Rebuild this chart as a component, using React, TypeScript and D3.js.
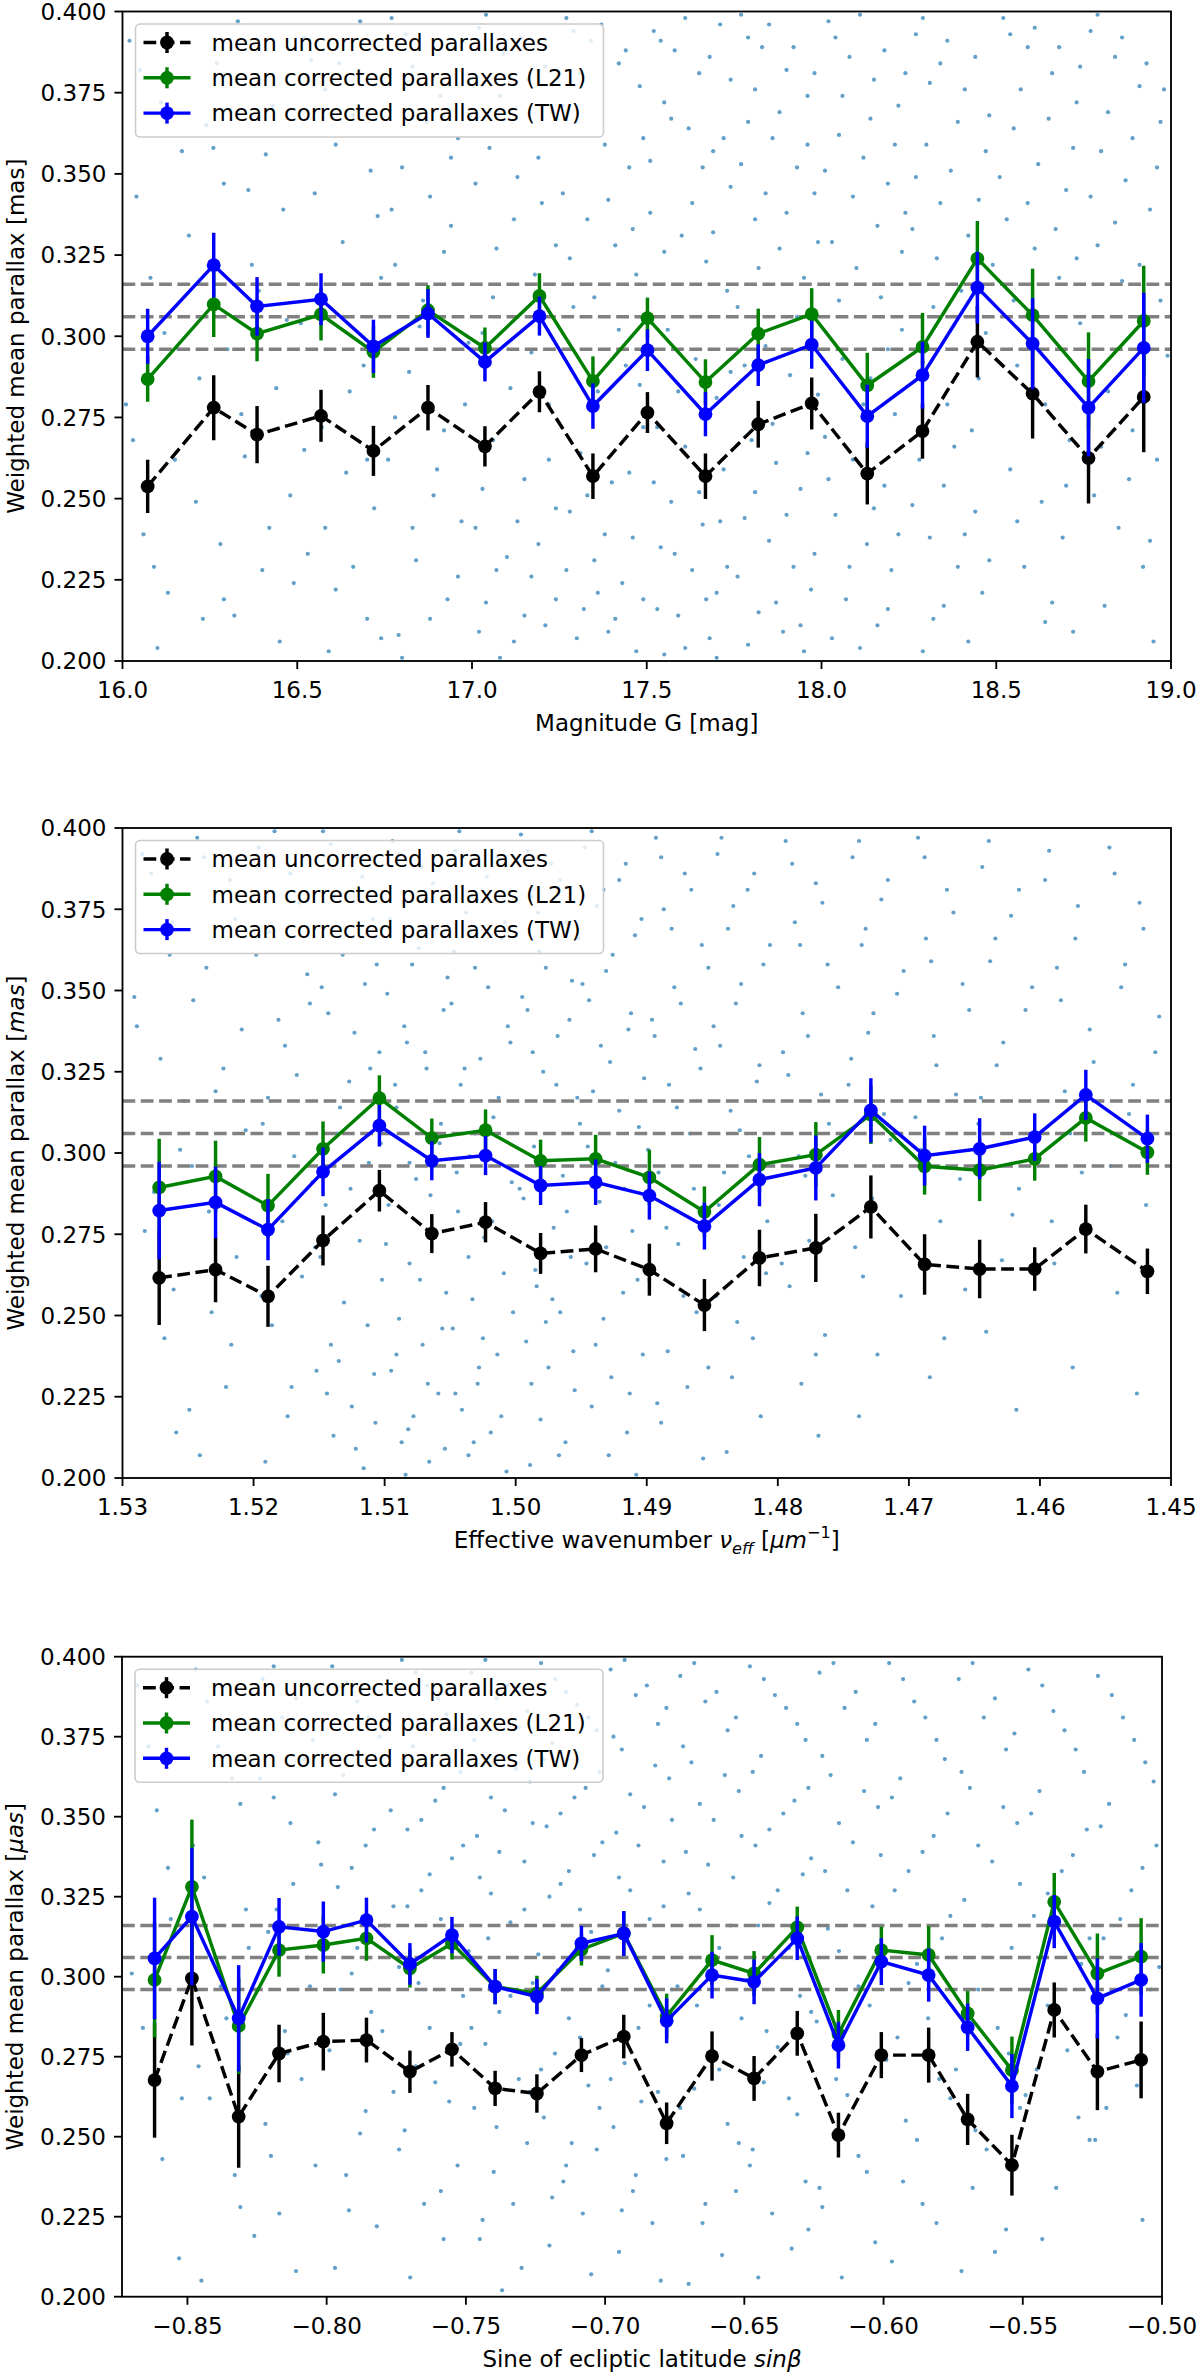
import { useEffect, useRef } from 'react';
import * as d3 from 'd3';

// ---------- shared ----------
const REF_LINES = [0.316, 0.306, 0.296];
const Y_TICKS = [0.2, 0.225, 0.25, 0.275, 0.3, 0.325, 0.35, 0.375, 0.4];
const LEGEND_LABELS = [
  'mean uncorrected parallaxes',
  'mean corrected parallaxes (L21)',
  'mean corrected parallaxes (TW)',
];
const SERIES_COLORS = ['#000000', '#008000', '#0000ff'];

// ---------- panel 1: magnitude G ----------
const G_TICKS = [16, 16.5, 17, 17.5, 18, 18.5, 19];
const G_MAG = [16.072, 16.261, 16.385, 16.568, 16.718, 16.874, 17.037, 17.193, 17.346, 17.502, 17.668, 17.819, 17.972, 18.131, 18.289, 18.446, 18.604, 18.764, 18.922];
const G_UNCORR = [0.2538, 0.278, 0.2697, 0.2755, 0.2647, 0.278, 0.2661, 0.2829, 0.2569, 0.2765, 0.2569, 0.2729, 0.2793, 0.2577, 0.2708, 0.2983, 0.2823, 0.2625, 0.2813];
const G_UNCORR_ERR = [0.0082, 0.01, 0.0088, 0.008, 0.0077, 0.007, 0.0062, 0.0063, 0.007, 0.0063, 0.007, 0.0072, 0.008, 0.0095, 0.0085, 0.011, 0.0138, 0.014, 0.017];
const G_L21 = [0.2868, 0.3098, 0.3008, 0.3067, 0.2952, 0.308, 0.2964, 0.3124, 0.2862, 0.3056, 0.2859, 0.3008, 0.3068, 0.2849, 0.2967, 0.3239, 0.3065, 0.2862, 0.3047];
const G_L21_ERR = [0.007, 0.01, 0.0085, 0.008, 0.008, 0.0077, 0.0063, 0.007, 0.0076, 0.0063, 0.007, 0.0077, 0.008, 0.01, 0.0105, 0.0116, 0.0143, 0.015, 0.017];
const G_TW = [0.3, 0.3219, 0.3092, 0.3114, 0.2969, 0.307, 0.2921, 0.3062, 0.2785, 0.2957, 0.276, 0.2911, 0.2974, 0.2754, 0.288, 0.315, 0.2977, 0.278, 0.2964];
const G_TW_ERR = [0.0085, 0.01, 0.009, 0.008, 0.0082, 0.0075, 0.006, 0.006, 0.007, 0.0064, 0.0068, 0.0064, 0.0074, 0.0097, 0.0103, 0.011, 0.014, 0.015, 0.017];
const G_SCATTER: [number, number][] = [
  [16.02,.391],[16.11,.372],[16.04,.343],[16.19,.331],[16.08,.318],[16.22,.287],[16.01,.279],[16.15,.262],[16.06,.239],[16.13,.221],[16.23,.213],[16.10,.204],
  [16.27,.384],[16.33,.397],[16.41,.356],[16.29,.347],[16.46,.339],[16.37,.322],[16.30,.296],[16.44,.284],[16.35,.263],[16.48,.251],[16.28,.236],[16.40,.228],[16.32,.214],[16.45,.206],
  [16.52,.392],[16.58,.376],[16.66,.368],[16.71,.351],[16.55,.344],[16.63,.329],[16.74,.318],[16.51,.304],[16.69,.291],[16.57,.272],[16.64,.258],[16.72,.247],[16.53,.233],[16.61,.222],[16.70,.213],[16.59,.203],
  [16.77,.398],[16.83,.383],[16.91,.374],[16.96,.361],[16.80,.352],[16.88,.343],[16.94,.334],[16.78,.322],[16.86,.311],[16.99,.298],[16.82,.289],[16.92,.271],[16.76,.262],[16.89,.251],[16.97,.243],[16.84,.231],[16.93,.219],[16.79,.208],
  [17.02,.395],[17.09,.387],[17.16,.379],[17.23,.369],[17.05,.358],[17.13,.349],[17.20,.341],[17.07,.327],[17.18,.319],[17.03,.301],[17.11,.284],[17.22,.279],[17.06,.268],[17.15,.256],[17.24,.247],[17.01,.241],[17.10,.232],[17.17,.226],[17.04,.218],[17.21,.211],[17.12,.206],[17.08,.201],
  [17.27,.398],[17.34,.391],[17.42,.384],[17.48,.377],[17.30,.366],[17.38,.359],[17.45,.352],[17.26,.344],[17.33,.336],[17.41,.328],[17.47,.319],[17.29,.309],[17.44,.291],[17.36,.283],[17.49,.272],[17.31,.264],[17.40,.255],[17.28,.246],[17.46,.238],[17.35,.231],[17.43,.224],[17.32,.216],[17.39,.209],[17.47,.203],
  [17.52,.394],[17.58,.388],[17.65,.381],[17.71,.396],[17.55,.372],[17.62,.364],[17.69,.357],[17.74,.346],[17.51,.338],[17.60,.331],[17.67,.323],[17.73,.314],[17.56,.302],[17.64,.293],[17.70,.281],[17.53,.272],[17.61,.266],[17.72,.259],[17.57,.249],[17.66,.242],[17.54,.235],[17.63,.228],[17.70,.221],[17.59,.214],[17.68,.207],[17.55,.202],
  [17.77,.399],[17.83,.389],[17.90,.382],[17.96,.374],[17.79,.366],[17.86,.361],[17.93,.352],[17.98,.344],[17.81,.336],[17.88,.327],[17.95,.318],[17.76,.309],[17.84,.297],[17.91,.288],[17.99,.282],[17.80,.268],[17.87,.261],[17.94,.253],[17.78,.244],[17.85,.237],[17.92,.229],[17.97,.222],[17.82,.215],[17.89,.209],[17.95,.203],[17.76,.226],
  [18.02,.397],[18.08,.386],[18.15,.379],[18.22,.371],[18.05,.362],[18.12,.355],[18.19,.347],[18.24,.338],[18.03,.329],[18.10,.321],[18.17,.312],[18.23,.302],[18.06,.293],[18.14,.287],[18.21,.276],[18.01,.269],[18.09,.262],[18.18,.254],[18.04,.245],[18.13,.236],[18.20,.228],[18.07,.219],[18.16,.211],[18.11,.204],
  [18.27,.393],[18.34,.384],[18.41,.376],[18.48,.368],[18.30,.359],[18.37,.351],[18.45,.342],[18.26,.333],[18.33,.324],[18.40,.314],[18.47,.301],[18.29,.292],[18.36,.279],[18.43,.271],[18.28,.262],[18.35,.254],[18.44,.246],[18.31,.238],[18.39,.229],[18.46,.221],[18.32,.213],[18.42,.206],
  [18.52,.398],[18.59,.389],[18.66,.381],[18.73,.372],[18.55,.364],[18.62,.353],[18.70,.345],[18.53,.336],[18.61,.327],[18.68,.318],[18.74,.304],[18.56,.291],[18.64,.279],[18.71,.268],[18.54,.259],[18.63,.249],[18.69,.238],[18.58,.229],[18.66,.218],[18.72,.209],
  [18.77,.394],[18.84,.386],[18.91,.377],[18.97,.366],[18.80,.357],[18.87,.348],[18.94,.339],[18.79,.328],[18.86,.317],[18.93,.305],[18.99,.294],[18.82,.283],[18.89,.271],[18.96,.262],[18.78,.251],[18.85,.241],[18.92,.229],[18.81,.217],[18.95,.206],
];
const G_SCATTER_B: [number, number][] = [
  [16.05,.382],[16.17,.357],[16.12,.301],[16.03,.268],[16.21,.249],[16.09,.229],[16.16,.296],[16.24,.365],
  [16.31,.389],[16.43,.371],[16.26,.358],[16.39,.314],[16.47,.305],[16.34,.276],[16.42,.241],[16.29,.219],[16.36,.345],[16.49,.224],
  [16.54,.385],[16.68,.397],[16.61,.359],[16.73,.337],[16.56,.312],[16.65,.283],[16.52,.265],[16.70,.262],[16.58,.241],[16.66,.229],[16.74,.207],[16.62,.384],
  [16.81,.393],[16.95,.389],[16.87,.366],[16.77,.339],[16.92,.326],[16.85,.303],[16.98,.279],[16.78,.275],[16.90,.259],[16.83,.241],[16.96,.226],[16.88,.213],[16.80,.201],[16.94,.355],
  [17.04,.399],[17.14,.392],[17.21,.383],[17.08,.374],[17.19,.355],[17.01,.347],[17.12,.336],[17.24,.328],[17.06,.312],[17.17,.295],[17.22,.262],[17.03,.253],[17.13,.243],[17.19,.236],[17.07,.228],[17.24,.219],[17.15,.214],[17.02,.209],
  [17.29,.394],[17.37,.396],[17.44,.388],[17.31,.381],[17.49,.361],[17.26,.371],[17.39,.342],[17.46,.333],[17.28,.324],[17.35,.312],[17.42,.302],[17.48,.285],[17.33,.251],[17.45,.258],[17.27,.228],[17.38,.239],[17.49,.219],[17.30,.207],[17.41,.213],[17.36,.221],
  [17.54,.391],[17.61,.398],[17.68,.386],[17.74,.379],[17.57,.367],[17.66,.352],[17.72,.361],[17.51,.354],[17.63,.341],[17.69,.332],[17.55,.326],[17.74,.289],[17.59,.283],[17.52,.255],[17.65,.252],[17.71,.243],[17.58,.233],[17.67,.219],[17.53,.216],[17.73,.229],[17.61,.204],[17.70,.201],
  [17.79,.392],[17.85,.396],[17.92,.389],[17.98,.381],[17.81,.376],[17.88,.369],[17.96,.359],[17.77,.353],[17.84,.344],[17.90,.338],[17.99,.329],[17.82,.321],[17.93,.306],[17.78,.291],[17.86,.273],[17.96,.264],[17.81,.252],[17.90,.245],[17.98,.233],[17.87,.218],[17.79,.205],[17.94,.211],
  [18.04,.392],[18.11,.399],[18.18,.388],[18.24,.381],[18.06,.374],[18.14,.367],[18.21,.359],[18.01,.351],[18.09,.343],[18.16,.334],[18.23,.326],[18.05,.311],[18.19,.296],[18.12,.279],[18.02,.256],[18.15,.247],[18.22,.239],[18.08,.229],[18.19,.216],[18.03,.207],
  [18.29,.398],[18.36,.391],[18.44,.386],[18.31,.378],[18.39,.366],[18.47,.357],[18.27,.349],[18.34,.341],[18.42,.331],[18.49,.322],[18.32,.309],[18.45,.287],[18.38,.266],[18.26,.248],[18.41,.239],[18.48,.231],[18.35,.217],[18.29,.203],
  [18.54,.393],[18.61,.395],[18.68,.389],[18.74,.383],[18.57,.376],[18.65,.367],[18.72,.358],[18.51,.349],[18.59,.341],[18.67,.333],[18.73,.324],[18.55,.311],[18.62,.296],[18.70,.254],[18.56,.243],[18.64,.212],
  [18.79,.399],[18.86,.392],[18.93,.384],[18.98,.376],[18.82,.369],[18.89,.361],[18.96,.352],[18.77,.343],[18.84,.335],[18.91,.322],[18.97,.311],[18.80,.266],[18.88,.256],[18.94,.237],
];

// ---------- panel 2: effective wavenumber ----------
const NU_TICKS = [1.53, 1.52, 1.51, 1.5, 1.49, 1.48, 1.47, 1.46, 1.45];
const NU_EFF = [1.5272, 1.5229, 1.5189, 1.5147, 1.5104, 1.5064, 1.5023, 1.4981, 1.4939, 1.4898, 1.4856, 1.4814, 1.4771, 1.4729, 1.4688, 1.4646, 1.4604, 1.4565, 1.4518];
const NU_UNCORR = [0.2616, 0.2641, 0.2559, 0.2731, 0.2884, 0.2752, 0.2787, 0.2691, 0.2705, 0.2641, 0.2532, 0.2677, 0.2708, 0.2834, 0.2657, 0.2643, 0.2643, 0.2766, 0.2636];
const NU_UNCORR_ERR = [0.0145, 0.01, 0.0094, 0.0077, 0.0064, 0.006, 0.0062, 0.0063, 0.0072, 0.008, 0.008, 0.0087, 0.0105, 0.0097, 0.0093, 0.009, 0.0067, 0.0075, 0.007];
const NU_L21 = [0.2894, 0.2928, 0.2838, 0.3013, 0.3169, 0.3046, 0.307, 0.2976, 0.2982, 0.2925, 0.2819, 0.2964, 0.2995, 0.3118, 0.2959, 0.2947, 0.2982, 0.3108, 0.3002];
const NU_L21_ERR = [0.015, 0.011, 0.0098, 0.0084, 0.007, 0.006, 0.0064, 0.0065, 0.0074, 0.0085, 0.0078, 0.0085, 0.01, 0.009, 0.0087, 0.0095, 0.0067, 0.0073, 0.0069];
const NU_TW = [0.2823, 0.2848, 0.2764, 0.2942, 0.3084, 0.2976, 0.2992, 0.29, 0.291, 0.2869, 0.2775, 0.2918, 0.2954, 0.3131, 0.2992, 0.3013, 0.3049, 0.3179, 0.3044];
const NU_TW_ERR = [0.015, 0.011, 0.0094, 0.0075, 0.0064, 0.006, 0.006, 0.006, 0.007, 0.0074, 0.0072, 0.0082, 0.01, 0.0099, 0.0092, 0.0094, 0.0073, 0.0077, 0.0074];
const NU_SCATTER: [number, number][] = [
  [1.5285,.392],[1.5262,.371],[1.5291,.348],[1.5271,.329],[1.5256,.301],[1.5283,.276],[1.5268,.243],[1.5259,.214],
  [1.5243,.397],[1.5218,.384],[1.5236,.357],[1.5209,.338],[1.5229,.319],[1.5247,.296],[1.5213,.268],[1.5232,.251],[1.5221,.228],[1.5241,.207],
  [1.5196,.394],[1.5172,.386],[1.5188,.368],[1.5159,.355],[1.5181,.341],[1.5167,.324],[1.5193,.309],[1.5155,.291],[1.5178,.279],[1.5163,.262],[1.5186,.247],[1.5152,.233],[1.5174,.219],[1.5191,.205],
  [1.5147,.399],[1.5121,.391],[1.5138,.379],[1.5109,.372],[1.5132,.361],[1.5115,.352],[1.5143,.343],[1.5104,.331],[1.5127,.322],[1.5136,.306],[1.5112,.297],[1.5145,.284],[1.5119,.273],[1.5102,.261],[1.5131,.254],[1.5141,.241],[1.5108,.232],[1.5125,.222],[1.5139,.213],[1.5116,.203],
  [1.5094,.396],[1.5072,.388],[1.5086,.377],[1.5061,.369],[1.5079,.358],[1.5098,.349],[1.5055,.344],[1.5083,.334],[1.5068,.326],[1.5091,.314],[1.5058,.303],[1.5076,.292],[1.5097,.284],[1.5064,.276],[1.5081,.266],[1.5053,.257],[1.5089,.249],[1.5071,.241],[1.5095,.233],[1.5059,.226],[1.5078,.219],[1.5087,.211],[1.5066,.205],[1.5084,.201],
  [1.5046,.393],[1.5022,.385],[1.5038,.374],[1.5011,.366],[1.5031,.357],[1.5049,.346],[1.5006,.339],[1.5027,.329],[1.5042,.321],[1.5017,.311],[1.5035,.299],[1.5003,.291],[1.5044,.282],[1.5024,.274],[1.5009,.263],[1.5033,.255],[1.5048,.246],[1.5014,.238],[1.5029,.229],[1.5041,.221],[1.5019,.214],[1.5036,.207],[1.5007,.202],[1.5025,.243],
  [1.4996,.398],[1.4973,.389],[1.4988,.379],[1.4961,.371],[1.4982,.362],[1.4957,.353],[1.4991,.344],[1.4968,.336],[1.4979,.325],[1.4953,.317],[1.4986,.302],[1.4964,.293],[1.4994,.286],[1.4971,.277],[1.4958,.268],[1.4984,.259],[1.4966,.251],[1.4992,.242],[1.4975,.234],[1.4955,.227],[1.4981,.218],[1.4962,.211],[1.4989,.204],[1.4977,.248],
  [1.4947,.394],[1.4921,.384],[1.4938,.376],[1.4909,.367],[1.4931,.356],[1.4944,.347],[1.4914,.338],[1.4928,.328],[1.4941,.319],[1.4906,.308],[1.4924,.297],[1.4936,.285],[1.4911,.276],[1.4946,.266],[1.4918,.257],[1.4933,.249],[1.4903,.238],[1.4927,.231],[1.4942,.222],[1.4915,.214],[1.4929,.207],[1.4908,.201],
  [1.4893,.397],[1.4871,.386],[1.4887,.375],[1.4858,.364],[1.4879,.351],[1.4896,.341],[1.4863,.332],[1.4883,.321],[1.4867,.306],[1.4891,.294],[1.4855,.283],[1.4876,.272],[1.4898,.261],[1.4862,.251],[1.4884,.239],[1.4869,.228],[1.4889,.217],[1.4857,.206],
  [1.4846,.392],[1.4823,.381],[1.4838,.369],[1.4811,.358],[1.4832,.346],[1.4844,.333],[1.4816,.322],[1.4829,.307],[1.4841,.294],[1.4808,.279],[1.4826,.268],[1.4847,.256],[1.4819,.243],[1.4835,.231],[1.4813,.219],[1.4839,.208],
  [1.4794,.396],[1.4771,.383],[1.4787,.371],[1.4762,.358],[1.4781,.343],[1.4796,.331],[1.4767,.318],[1.4784,.299],[1.4758,.287],[1.4776,.273],[1.4791,.259],[1.4764,.244],[1.4782,.229],[1.4769,.213],
  [1.4743,.391],[1.4721,.378],[1.4736,.364],[1.4709,.349],[1.4731,.337],[1.4746,.321],[1.4714,.304],[1.4728,.286],[1.4741,.271],[1.4706,.256],[1.4724,.238],[1.4738,.219],
  [1.4693,.397],[1.4671,.381],[1.4687,.366],[1.4659,.352],[1.4681,.336],[1.4664,.318],[1.4691,.301],[1.4676,.279],[1.4657,.258],[1.4684,.231],
  [1.4644,.388],[1.4622,.373],[1.4638,.359],[1.4611,.344],[1.4633,.327],[1.4647,.309],[1.4616,.289],[1.4629,.267],[1.4641,.245],[1.4618,.221],
  [1.4593,.393],[1.4571,.376],[1.4587,.357],[1.4562,.338],[1.4581,.319],[1.4568,.294],[1.4589,.266],[1.4575,.234],
  [1.4543,.386],[1.4521,.369],[1.4538,.351],[1.4512,.331],[1.4532,.312],[1.4519,.284],[1.4541,.257],[1.4526,.226],
];
const NU_SCATTER_B: [number, number][] = [
  [1.5278,.386],[1.5264,.361],[1.5289,.339],[1.5253,.316],[1.5276,.288],[1.5261,.258],
  [1.5238,.391],[1.5214,.372],[1.5246,.347],[1.5223,.326],[1.5206,.307],[1.5234,.282],[1.5217,.241],[1.5249,.221],
  [1.5184,.399],[1.5165,.377],[1.5198,.361],[1.5157,.346],[1.5176,.333],[1.5189,.317],[1.5169,.299],[1.5153,.271],[1.5194,.256],[1.5171,.228],
  [1.5141,.395],[1.5117,.385],[1.5129,.367],[1.5106,.358],[1.5148,.351],[1.5123,.337],[1.5111,.326],[1.5134,.314],[1.5103,.303],[1.5126,.289],[1.5149,.268],[1.5113,.247],[1.5135,.236],[1.5107,.217],[1.5122,.209],[1.5144,.226],
  [1.5089,.392],[1.5063,.383],[1.5096,.372],[1.5074,.363],[1.5052,.354],[1.5085,.339],[1.5069,.331],[1.5092,.321],[1.5057,.309],[1.5081,.297],[1.5065,.287],[1.5099,.272],[1.5073,.261],[1.5056,.246],[1.5091,.238],[1.5067,.229],[1.5082,.215],[1.5054,.209],
  [1.5043,.399],[1.5014,.391],[1.5033,.379],[1.5008,.371],[1.5047,.362],[1.5021,.351],[1.5004,.334],[1.5039,.326],[1.5013,.317],[1.5031,.306],[1.5045,.294],[1.5018,.279],[1.5036,.268],[1.5002,.251],[1.5028,.234],[1.5046,.226],[1.5011,.219],[1.5032,.211],
  [1.4991,.393],[1.4966,.384],[1.4983,.374],[1.4952,.366],[1.4977,.357],[1.4995,.348],[1.4959,.341],[1.4987,.331],[1.4969,.321],[1.4951,.309],[1.4978,.298],[1.4997,.289],[1.4961,.282],[1.4985,.264],[1.4972,.255],[1.4956,.239],[1.4988,.229],[1.4967,.207],
  [1.4942,.399],[1.4916,.389],[1.4933,.381],[1.4904,.372],[1.4926,.361],[1.4949,.352],[1.4912,.343],[1.4935,.333],[1.4902,.323],[1.4921,.313],[1.4945,.302],[1.4917,.289],[1.4931,.271],[1.4907,.261],[1.4939,.241],[1.4913,.226],
  [1.4889,.391],[1.4866,.381],[1.4881,.369],[1.4853,.357],[1.4874,.346],[1.4894,.336],[1.4859,.326],[1.4877,.314],[1.4899,.301],[1.4864,.289],[1.4885,.277],[1.4872,.256],[1.4853,.234],[1.4892,.223],
  [1.4843,.397],[1.4818,.386],[1.4834,.376],[1.4806,.364],[1.4828,.352],[1.4849,.339],[1.4814,.327],[1.4836,.313],[1.4822,.299],[1.4845,.284],[1.4809,.263],[1.4831,.248],
  [1.4789,.389],[1.4766,.377],[1.4783,.364],[1.4754,.351],[1.4777,.336],[1.4792,.324],[1.4761,.309],[1.4779,.293],[1.4797,.266],[1.4771,.238],
  [1.4738,.396],[1.4716,.384],[1.4733,.369],[1.4704,.356],[1.4727,.343],[1.4744,.329],[1.4719,.312],[1.4735,.262],
  [1.4688,.391],[1.4666,.374],[1.4683,.359],[1.4654,.344],[1.4679,.327],[1.4695,.311],[1.4661,.292],[1.4673,.243],
  [1.4639,.396],[1.4616,.381],[1.4634,.366],[1.4606,.351],[1.4628,.334],[1.4645,.317],[1.4621,.281],
  [1.4596,.384],[1.4573,.366],[1.4584,.347],[1.4559,.328],[1.4577,.306],[1.4591,.279],
  [1.4547,.394],[1.4524,.377],[1.4535,.358],[1.4509,.342],[1.4529,.321],[1.4546,.296],
];

// ---------- panel 3: sine of ecliptic latitude ----------
const SB_TICKS = [-0.85, -0.8, -0.75, -0.7, -0.65, -0.6, -0.55, -0.5];
const SIN_B = [-0.8618, -0.8484, -0.8316, -0.8171, -0.8012, -0.7857, -0.7701, -0.755, -0.7395, -0.7245, -0.7085, -0.6933, -0.6779, -0.6616, -0.6465, -0.631, -0.6162, -0.6008, -0.5838, -0.5698, -0.5539, -0.5387, -0.5232, -0.5075];
const SB_UNCORR = [0.2677, 0.2995, 0.2563, 0.276, 0.2797, 0.2802, 0.2703, 0.2773, 0.2651, 0.2635, 0.2755, 0.2813, 0.2542, 0.2752, 0.2682, 0.2823, 0.2505, 0.2755, 0.2755, 0.2554, 0.2411, 0.2896, 0.2703, 0.274];
const SB_UNCORR_ERR = [0.018, 0.021, 0.016, 0.009, 0.009, 0.007, 0.0066, 0.0054, 0.0055, 0.006, 0.0053, 0.0068, 0.0065, 0.0077, 0.007, 0.007, 0.007, 0.0072, 0.0086, 0.008, 0.0095, 0.0086, 0.012, 0.012];
const SB_L21 = [0.299, 0.3281, 0.2846, 0.3083, 0.3099, 0.312, 0.3026, 0.3104, 0.2969, 0.2948, 0.3085, 0.3135, 0.2877, 0.3052, 0.301, 0.3154, 0.2821, 0.3083, 0.3068, 0.2885, 0.2708, 0.3234, 0.301, 0.3063];
const SB_L21_ERR = [0.018, 0.021, 0.015, 0.0083, 0.0089, 0.007, 0.006, 0.005, 0.0055, 0.0055, 0.005, 0.007, 0.007, 0.0078, 0.007, 0.0065, 0.0075, 0.0073, 0.009, 0.007, 0.0105, 0.009, 0.0125, 0.012];
const SB_TW = [0.3057, 0.3188, 0.287, 0.3156, 0.3141, 0.3177, 0.304, 0.313, 0.2969, 0.2938, 0.3104, 0.3135, 0.2862, 0.3005, 0.2984, 0.312, 0.2786, 0.3047, 0.3005, 0.2842, 0.2658, 0.3172, 0.2932, 0.299];
const SB_TW_ERR = [0.019, 0.0215, 0.0166, 0.009, 0.0094, 0.007, 0.0065, 0.0057, 0.0055, 0.0055, 0.0055, 0.007, 0.007, 0.0073, 0.007, 0.0068, 0.0073, 0.0073, 0.0083, 0.0074, 0.01, 0.0083, 0.0125, 0.0115];
const SB_SCATTER: [number, number][] = [
  [-.868,.391],[-.861,.352],[-.856,.318],[-.866,.284],[-.859,.243],[-.853,.212],
  [-.847,.396],[-.839,.372],[-.831,.354],[-.844,.331],[-.828,.309],[-.836,.287],[-.842,.262],[-.833,.238],[-.826,.219],[-.845,.205],
  [-.823,.393],[-.816,.381],[-.808,.368],[-.819,.356],[-.803,.342],[-.812,.329],[-.821,.314],[-.806,.297],[-.815,.283],[-.809,.268],[-.822,.254],[-.804,.241],[-.817,.226],[-.811,.208],
  [-.798,.397],[-.789,.386],[-.781,.375],[-.794,.363],[-.777,.352],[-.786,.341],[-.796,.328],[-.779,.316],[-.791,.301],[-.784,.289],[-.799,.277],[-.776,.264],[-.788,.251],[-.793,.238],[-.782,.222],[-.797,.209],
  [-.773,.399],[-.764,.391],[-.757,.382],[-.769,.372],[-.752,.364],[-.761,.355],[-.771,.346],[-.755,.337],[-.766,.327],[-.759,.318],[-.774,.303],[-.751,.294],[-.763,.284],[-.768,.272],[-.756,.261],[-.772,.252],[-.753,.241],[-.765,.229],[-.758,.218],[-.770,.206],
  [-.748,.395],[-.739,.387],[-.731,.378],[-.744,.369],[-.727,.361],[-.736,.352],[-.746,.344],[-.729,.336],[-.741,.326],[-.734,.317],[-.749,.308],[-.726,.298],[-.738,.289],[-.743,.279],[-.731,.268],[-.747,.259],[-.728,.248],[-.740,.239],[-.733,.229],[-.745,.218],[-.730,.209],[-.737,.202],
  [-.723,.398],[-.714,.389],[-.706,.381],[-.719,.373],[-.702,.364],[-.711,.356],[-.721,.347],[-.704,.338],[-.716,.329],[-.709,.321],[-.724,.307],[-.701,.297],[-.713,.287],[-.718,.276],[-.706,.266],[-.722,.256],[-.703,.246],[-.715,.236],[-.708,.226],[-.720,.216],[-.705,.207],[-.712,.248],
  [-.698,.396],[-.689,.388],[-.681,.379],[-.694,.371],[-.677,.362],[-.686,.353],[-.696,.345],[-.679,.336],[-.691,.327],[-.684,.318],[-.699,.302],[-.676,.296],[-.688,.284],[-.693,.273],[-.681,.264],[-.697,.253],[-.678,.243],[-.690,.233],[-.683,.223],[-.695,.214],[-.680,.205],[-.687,.261],
  [-.673,.394],[-.664,.386],[-.656,.377],[-.669,.367],[-.652,.358],[-.661,.349],[-.671,.339],[-.654,.331],[-.666,.321],[-.659,.309],[-.674,.297],[-.651,.287],[-.663,.276],[-.668,.265],[-.656,.254],[-.672,.244],[-.653,.233],[-.665,.223],[-.658,.213],[-.670,.204],
  [-.648,.397],[-.639,.388],[-.631,.379],[-.644,.369],[-.627,.359],[-.636,.351],[-.646,.341],[-.629,.332],[-.641,.323],[-.634,.309],[-.649,.299],[-.626,.289],[-.638,.278],[-.643,.267],[-.631,.257],[-.647,.246],[-.628,.236],[-.640,.226],[-.633,.215],[-.645,.206],
  [-.623,.395],[-.614,.384],[-.606,.374],[-.619,.363],[-.602,.353],[-.611,.342],[-.621,.333],[-.604,.322],[-.616,.308],[-.609,.297],[-.624,.286],[-.601,.274],[-.613,.263],[-.618,.251],[-.606,.239],[-.622,.228],[-.603,.217],[-.615,.206],
  [-.598,.398],[-.589,.386],[-.581,.374],[-.594,.362],[-.577,.351],[-.586,.339],[-.596,.327],[-.579,.312],[-.591,.298],[-.584,.287],[-.599,.274],[-.576,.262],[-.588,.249],[-.593,.236],[-.581,.223],[-.597,.211],
  [-.573,.393],[-.564,.381],[-.556,.371],[-.569,.359],[-.552,.348],[-.561,.336],[-.571,.324],[-.554,.309],[-.566,.296],[-.559,.284],[-.574,.271],[-.551,.259],[-.563,.246],[-.568,.234],[-.556,.221],[-.572,.208],
  [-.548,.396],[-.539,.383],[-.531,.371],[-.544,.358],[-.527,.346],[-.536,.333],[-.546,.319],[-.529,.304],[-.541,.291],[-.534,.277],[-.549,.263],[-.526,.249],[-.538,.234],[-.543,.218],
  [-.523,.394],[-.514,.381],[-.506,.367],[-.519,.354],[-.502,.341],[-.511,.327],[-.521,.312],[-.504,.296],[-.516,.281],[-.509,.266],[-.524,.249],[-.507,.224],
];
const SB_SCATTER_B: [number, number][] = [
  [-.864,.372],[-.857,.334],[-.870,.301],[-.852,.262],
  [-.843,.386],[-.834,.362],[-.848,.341],[-.829,.321],[-.838,.297],[-.846,.272],[-.831,.228],
  [-.819,.397],[-.811,.387],[-.805,.374],[-.824,.362],[-.813,.348],[-.802,.335],[-.818,.321],[-.807,.306],[-.814,.276],[-.820,.244],
  [-.793,.392],[-.785,.381],[-.778,.369],[-.797,.357],[-.783,.346],[-.791,.334],[-.776,.322],[-.789,.309],[-.795,.296],[-.780,.283],[-.786,.258],[-.792,.227],
  [-.768,.395],[-.760,.387],[-.754,.377],[-.772,.368],[-.758,.359],[-.766,.349],[-.751,.341],[-.763,.332],[-.771,.322],[-.756,.312],[-.767,.298],[-.752,.279],[-.761,.267],[-.774,.246],[-.759,.233],
  [-.743,.399],[-.735,.391],[-.728,.383],[-.747,.374],[-.732,.365],[-.741,.356],[-.726,.348],[-.738,.339],[-.745,.331],[-.729,.321],[-.742,.312],[-.734,.294],[-.748,.284],[-.727,.264],[-.739,.253],[-.744,.224],
  [-.718,.393],[-.710,.385],[-.703,.377],[-.722,.368],[-.707,.359],[-.716,.351],[-.701,.342],[-.713,.333],[-.720,.325],[-.705,.314],[-.717,.302],[-.709,.281],[-.723,.271],[-.702,.259],[-.714,.241],[-.719,.231],
  [-.693,.399],[-.685,.391],[-.678,.384],[-.697,.375],[-.682,.366],[-.691,.357],[-.676,.349],[-.688,.341],[-.695,.331],[-.679,.322],[-.692,.311],[-.684,.291],[-.698,.268],[-.677,.256],[-.689,.238],[-.694,.227],
  [-.668,.398],[-.660,.389],[-.653,.381],[-.672,.372],[-.657,.363],[-.666,.354],[-.651,.344],[-.663,.335],[-.670,.326],[-.655,.316],[-.667,.291],[-.659,.271],[-.673,.259],[-.652,.248],[-.664,.229],
  [-.643,.393],[-.635,.384],[-.628,.374],[-.647,.364],[-.632,.355],[-.641,.346],[-.626,.337],[-.638,.327],[-.645,.316],[-.630,.294],[-.642,.283],[-.634,.262],[-.648,.241],[-.627,.221],
  [-.618,.398],[-.610,.389],[-.603,.379],[-.622,.369],[-.607,.358],[-.616,.348],[-.601,.338],[-.613,.327],[-.620,.315],[-.605,.291],[-.617,.268],[-.609,.244],[-.623,.234],
  [-.593,.393],[-.585,.381],[-.578,.368],[-.597,.356],[-.582,.344],[-.591,.333],[-.576,.319],[-.588,.304],[-.595,.281],[-.580,.268],[-.592,.255],[-.586,.229],
  [-.568,.398],[-.560,.387],[-.553,.376],[-.572,.364],[-.557,.353],[-.566,.341],[-.551,.329],[-.563,.316],[-.570,.289],[-.555,.276],[-.567,.252],[-.560,.214],
  [-.543,.391],[-.535,.377],[-.528,.364],[-.547,.351],[-.532,.338],[-.541,.326],[-.526,.312],[-.538,.296],[-.545,.271],[-.530,.256],
  [-.518,.388],[-.510,.374],[-.503,.361],[-.522,.347],[-.507,.334],[-.515,.318],[-.501,.303],[-.513,.288],[-.520,.259],
];

// ---------- drawing ----------
const FONT = "'DejaVu Sans', 'Liberation Sans', sans-serif";
const FS = 23;
const PT = 2.3; // px per point

type Seg = { t: string; it?: boolean; sub?: boolean; sup?: boolean };

interface Panel {
  top: number; bottom: number; left: number; right: number;
  xDomain: [number, number];
  xTicks: number[];
  xFmt: (v: number) => string;
  x: number[];
  series: { v: number[]; e: number[] }[];
  scatter: [number, number][];
  xLabel: Seg[];
  yLabel: Seg[];
}

const PANELS: Panel[] = [
  {
    top: 11.5, bottom: 661, left: 122.5, right: 1171,
    xDomain: [16, 19], xTicks: G_TICKS, xFmt: d3.format('.1f'),
    x: G_MAG,
    series: [{ v: G_UNCORR, e: G_UNCORR_ERR }, { v: G_L21, e: G_L21_ERR }, { v: G_TW, e: G_TW_ERR }],
    scatter: [...G_SCATTER, ...G_SCATTER_B],
    xLabel: [{ t: 'Magnitude G [mag]' }],
    yLabel: [{ t: 'Weighted mean parallax [mas]' }],
  },
  {
    top: 828, bottom: 1478, left: 122.5, right: 1171,
    xDomain: [1.53, 1.45], xTicks: NU_TICKS, xFmt: d3.format('.2f'),
    x: NU_EFF,
    series: [{ v: NU_UNCORR, e: NU_UNCORR_ERR }, { v: NU_L21, e: NU_L21_ERR }, { v: NU_TW, e: NU_TW_ERR }],
    scatter: [...NU_SCATTER, ...NU_SCATTER_B],
    xLabel: [
      { t: 'Effective wavenumber ' }, { t: 'ν', it: true }, { t: 'eff', it: true, sub: true },
      { t: ' [' }, { t: 'μm', it: true }, { t: '−1', sup: true }, { t: ']' },
    ],
    yLabel: [{ t: 'Weighted mean parallax [' }, { t: 'mas', it: true }, { t: ']' }],
  },
  {
    top: 1656.7, bottom: 2296.7, left: 122, right: 1162,
    xDomain: [-0.8735, -0.5], xTicks: SB_TICKS, xFmt: d3.format('.2f'),
    x: SIN_B,
    series: [{ v: SB_UNCORR, e: SB_UNCORR_ERR }, { v: SB_L21, e: SB_L21_ERR }, { v: SB_TW, e: SB_TW_ERR }],
    scatter: [...SB_SCATTER, ...SB_SCATTER_B],
    xLabel: [{ t: 'Sine of ecliptic latitude ' }, { t: 'sinβ', it: true }],
    yLabel: [{ t: 'Weighted mean parallax [' }, { t: 'μas', it: true }, { t: ']' }],
  },
];

function addSegs(text: d3.Selection<SVGTextElement, unknown, null, undefined>, segs: Seg[]) {
  let shift = 0;
  segs.forEach(s => {
    const target = s.sub ? FS * 0.28 : s.sup ? -FS * 0.42 : 0;
    const ts = text.append('tspan').text(s.t);
    if (target - shift !== 0) ts.attr('dy', target - shift);
    shift = target;
    if (s.it) ts.attr('font-style', 'italic');
    if (s.sub || s.sup) ts.attr('font-size', FS * 0.7);
  });
}

function drawPanel(svg: d3.Selection<SVGSVGElement, unknown, null, undefined>, p: Panel, idx: number) {
  const x = d3.scaleLinear().domain(p.xDomain).range([p.left, p.right]);
  const y = d3.scaleLinear().domain([0.2, 0.4]).range([p.bottom, p.top]);
  const lw = 1.5 * PT;

  const clipId = `plotclip${idx}`;
  svg.append('clipPath').attr('id', clipId).append('rect')
    .attr('x', p.left).attr('y', p.top)
    .attr('width', p.right - p.left).attr('height', p.bottom - p.top);

  const g = svg.append('g').attr('clip-path', `url(#${clipId})`);

  // background sources
  g.append('g').selectAll('circle').data(p.scatter).join('circle')
    .attr('cx', d => x(d[0])).attr('cy', d => y(d[1])).attr('r', 2.1)
    .attr('fill', '#1f77b4').attr('fill-opacity', 0.7);

  // reference levels
  g.append('g').selectAll('line').data(REF_LINES).join('line')
    .attr('x1', p.left).attr('x2', p.right)
    .attr('y1', d => y(d)).attr('y2', d => y(d))
    .attr('stroke', '#808080').attr('stroke-width', lw)
    .attr('stroke-dasharray', `${3.7 * lw},${1.6 * lw}`);

  const line = d3.line<[number, number]>().x(d => x(d[0])).y(d => y(d[1]));

  p.series.forEach((s, si) => {
    const color = SERIES_COLORS[si];
    const pts = p.x.map((xv, i) => ({ xv, v: s.v[i], e: s.e[i] }));
    const sg = g.append('g');
    sg.selectAll('line').data(pts).join('line')
      .attr('x1', d => x(d.xv)).attr('x2', d => x(d.xv))
      .attr('y1', d => y(d.v - d.e)).attr('y2', d => y(d.v + d.e))
      .attr('stroke', color).attr('stroke-width', lw);
    sg.append('path')
      .datum(pts.map(d => [d.xv, d.v] as [number, number]))
      .attr('d', line).attr('fill', 'none')
      .attr('stroke', color).attr('stroke-width', lw)
      .attr('stroke-dasharray', si === 0 ? `${3.7 * lw},${1.6 * lw}` : null);
    sg.selectAll('circle').data(pts).join('circle')
      .attr('cx', d => x(d.xv)).attr('cy', d => y(d.v)).attr('r', 6.9)
      .attr('fill', color);
  });

  // spines
  svg.append('rect')
    .attr('x', p.left).attr('y', p.top)
    .attr('width', p.right - p.left).attr('height', p.bottom - p.top)
    .attr('fill', 'none').attr('stroke', '#000').attr('stroke-width', 0.8 * PT);

  const tickLen = 3.5 * PT;
  const axisG = svg.append('g').attr('font-family', FONT).attr('font-size', FS).attr('fill', '#000');

  // x ticks
  const xt = axisG.append('g').selectAll('g').data(p.xTicks).join('g')
    .attr('transform', d => `translate(${x(d)},${p.bottom})`);
  xt.append('line').attr('y2', tickLen).attr('stroke', '#000').attr('stroke-width', 0.8 * PT);
  xt.append('text').attr('y', 37).attr('text-anchor', 'middle').text(d => p.xFmt(d));

  // y ticks
  const yt = axisG.append('g').selectAll('g').data(Y_TICKS).join('g')
    .attr('transform', d => `translate(${p.left},${y(d)})`);
  yt.append('line').attr('x2', -tickLen).attr('stroke', '#000').attr('stroke-width', 0.8 * PT);
  yt.append('text').attr('x', -tickLen - 8).attr('dy', '0.36em').attr('text-anchor', 'end')
    .text(d => d3.format('.3f')(d));

  // axis labels
  const xl = axisG.append('text')
    .attr('x', (p.left + p.right) / 2).attr('y', p.bottom + 70)
    .attr('text-anchor', 'middle');
  addSegs(xl, p.xLabel);

  const yl = axisG.append('text')
    .attr('transform', `translate(${p.left - 99},${(p.top + p.bottom) / 2}) rotate(-90)`)
    .attr('text-anchor', 'middle');
  addSegs(yl, p.yLabel);

  // legend
  const lg = svg.append('g').attr('font-family', FONT).attr('font-size', FS);
  lg.append('rect')
    .attr('x', p.left + 13).attr('y', p.top + 12.5)
    .attr('width', 468).attr('height', 113).attr('rx', 4.6)
    .attr('fill', '#fff').attr('fill-opacity', 0.8)
    .attr('stroke', '#cccccc').attr('stroke-width', 1.6);

  LEGEND_LABELS.forEach((label, i) => {
    const cy = p.top + 31 + i * 35.3;
    const color = SERIES_COLORS[i];
    const hx = p.left + 44.5;
    lg.append('line')
      .attr('x1', p.left + 21).attr('x2', p.left + 68).attr('y1', cy).attr('y2', cy)
      .attr('stroke', color).attr('stroke-width', lw)
      .attr('stroke-dasharray', i === 0 ? `${3.7 * lw},${1.6 * lw}` : null);
    lg.append('line')
      .attr('x1', hx).attr('x2', hx).attr('y1', cy - 10.5).attr('y2', cy + 10.5)
      .attr('stroke', color).attr('stroke-width', lw);
    lg.append('circle').attr('cx', hx).attr('cy', cy).attr('r', 6.9).attr('fill', color);
    lg.append('text').attr('x', p.left + 89).attr('y', cy).attr('dy', '0.36em')
      .attr('fill', '#000').text(label);
  });
}

export default function App() {
  const svgRef = useRef<SVGSVGElement>(null);

  useEffect(() => {
    if (!svgRef.current) return;
    const svg = d3.select(svgRef.current);
    svg.selectAll('*').remove();
    svg.append('rect').attr('width', 1200).attr('height', 2379).attr('fill', '#fff');
    PANELS.forEach((p, i) => drawPanel(svg, p, i));
  }, []);

  return (
    <svg
      ref={svgRef}
      width={1200}
      height={2379}
      style={{ position: 'absolute', left: 0, top: 0, display: 'block' }}
    />
  );
}
